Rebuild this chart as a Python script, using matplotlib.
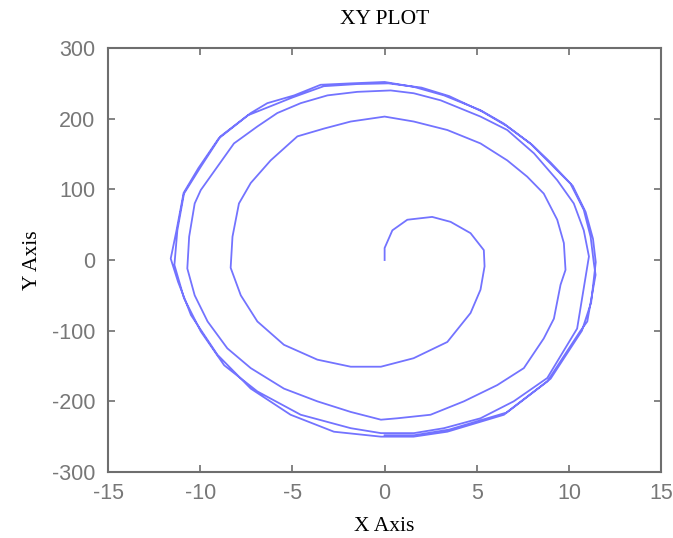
import matplotlib
matplotlib.use("Agg")
import matplotlib.pyplot as plt

plt.rcParams["axes.unicode_minus"] = False

# Trajectory points (x, y), clockwise spiral from the origin
turn1 = [(0.0, 0), (0.0, 17), (0.42, 42), (1.23, 57), (2.58, 61), (3.58, 54), (4.66, 38),
         (5.38, 14), (5.42, -9), (5.2, -42), (4.66, -75), (3.4, -116), (1.57, -139),
         (-0.2, -151), (-1.84, -151), (-3.65, -141), (-5.46, -120), (-6.9, -87),
         (-7.8, -50), (-8.35, -11), (-8.25, 33), (-7.9, 80), (-7.26, 109), (-6.18, 141),
         (-4.73, 175), (-3.29, 186), (-1.84, 196), (0.0, 203)]
turn2 = [(1.58, 196), (3.4, 184), (5.2, 165), (6.65, 141), (7.73, 118), (8.63, 94),
         (9.36, 57), (9.72, 24), (9.81, -14), (9.54, -35), (9.18, -83), (8.63, -111),
         (7.55, -153), (6.11, -177), (4.3, -200), (2.49, -219), (0.69, -224), (-0.2, -226),
         (-1.84, -215), (-3.65, -200), (-5.46, -182), (-7.26, -153), (-8.53, -125),
         (-9.6, -87), (-10.3, -50), (-10.7, -12), (-10.6, 33), (-10.3, 80), (-9.97, 99),
         (-9.07, 132), (-8.17, 165), (-6.9, 189), (-5.82, 208), (-4.55, 222), (-3.1, 233),
         (-1.48, 238), (0.33, 240)]
turn3 = [(1.58, 236), (3.04, 226), (5.2, 203), (6.65, 184), (8.1, 151), (9.36, 113),
         (10.26, 80), (10.8, 42), (11.08, 5), (10.8, -40), (10.44, -97), (8.82, -167),
         (7.0, -200), (5.2, -224), (3.22, -238), (1.59, -245), (-0.2, -245), (-1.84, -238),
         (-4.55, -219), (-6.9, -186), (-8.7, -149), (-9.97, -101), (-10.88, -54),
         (-11.4, -7), (-11.24, 42), (-10.88, 94), (-9.97, 132), (-8.9, 175), (-7.26, 208),
         (-6.36, 222), (-4.9, 233), (-3.47, 248), (-1.84, 250), (0.0, 252)]
turn4 = [(1.59, 245), (3.22, 233), (5.2, 212), (6.47, 193), (7.9, 165), (8.82, 141),
         (10.08, 108), (10.8, 71), (11.17, 33), (11.35, -5), (11.44, -21), (10.99, -87),
         (10.6, -101), (8.82, -172), (6.47, -219), (3.4, -243), (1.57, -250), (-0.2, -250),
         (-2.75, -243), (-5.1, -219), (-7.26, -182), (-9.07, -134), (-10.5, -78),
         (-11.2, -31), (-11.6, 2), (-11.3, 40), (-10.9, 95), (-10.1, 130), (-9.0, 172),
         (-7.4, 205), (-5.0, 230), (-3.3, 246), (-1.5, 249), (0.2, 250)]
turn5 = [(2.0, 244), (3.5, 232), (5.3, 210), (6.6, 190), (8.0, 163), (9.0, 138),
         (10.2, 105), (10.9, 68), (11.3, 30), (11.45, -3), (11.2, -60), (10.7, -100),
         (9.0, -168), (6.6, -216), (3.5, -240), (1.6, -248), (0.0, -248)]

title_text = "XY PLOT"
x_label = "X Axis"
y_label = "Y Axis"
x_ticks = [-15, -10, -5, 0, 5, 10, 15]
y_ticks = [-300, -200, -100, 0, 100, 200, 300]

points = turn1 + turn2 + turn3 + turn4 + turn5
xs = [p[0] for p in points]
ys = [p[1] for p in points]

fig = plt.figure(figsize=(6.73, 5.38), dpi=100)
ax = fig.add_axes([0.1605, 0.1227, 0.822, 0.788])
ax.plot(xs, ys, color="#0000ff", alpha=0.55, linewidth=1.3)
ax.set_xlim(-15, 15)
ax.set_ylim(-300, 300)
ax.set_xticks(x_ticks)
ax.set_yticks(y_ticks)
gray = "#6e6e6e"
ax.tick_params(direction="in", length=5, width=1.2, colors=gray, labelsize=15.5,
               top=True, right=True, labeltop=False, labelright=False)
ax.tick_params(axis="x", pad=8)
ax.tick_params(axis="y", pad=9)
for lab in ax.get_xticklabels() + ax.get_yticklabels():
    lab.set_fontfamily("Liberation Sans")
    lab.set_color("#777777")
for s in ax.spines.values():
    s.set_color(gray)
    s.set_linewidth(1.5)
ax.set_title(title_text, fontfamily="Liberation Serif", fontsize=15.5, pad=17)
ax.set_xlabel(x_label, fontfamily="Liberation Serif", fontsize=15.5, labelpad=9)
ax.set_ylabel(y_label, fontfamily="Liberation Serif", fontsize=15.5, labelpad=7)
fig.savefig("out.png", dpi=100)
